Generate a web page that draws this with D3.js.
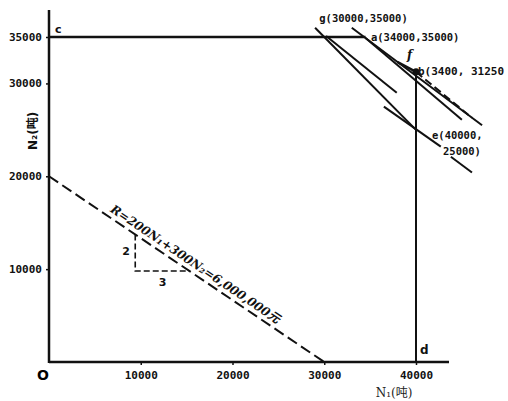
<!DOCTYPE html>
<html>
<head>
<meta charset="utf-8">
<script src="https://cdn.jsdelivr.net/npm/d3@7"></script>
<style>
  html, body { margin: 0; padding: 0; background: #fff; }
  svg { display: block; }
</style>
</head>
<body>
<div id="chart"></div>
<script>
// tick values
const N1_TICKS = [10000, 20000, 30000, 40000];
const N2_TICKS = [10000, 20000, 30000, 35000];

// iso-revenue line R = 200N1 + 300N2 = 6,000,000
const revenueLine = [[0, 20000], [30000, 0]];
// slope triangle (3 : 2) under the revenue line
const slopeTriangle = [[9400, 13733], [9400, 9800], [15300, 9800]];

// capacity limits
const n2Limit = [[0, 35000], [34500, 35000]];
const n1Limit = [[40000, 0], [40000, 31250]];

// constraint lines in the upper right corner
const solidLines = [
  [[33000, 36000], [47200, 25500]],
  [[34500, 34900], [45000, 26100]],
  [[30200, 35100], [37900, 29000]],
  [[29000, 36000], [40000, 25000]],
  [[36500, 27500], [42700, 23200]],
  [[43800, 22100], [46100, 20400]]
];
const dashedLines = [
  [[40000, 31250], [46100, 26300]]
];
const arrowFB = [[38000, 32300], [40000, 31250]];
const pointB = [40000, 31250];

const width = 508, height = 401;
const svg = d3.select('#chart').append('svg')
  .attr('width', width)
  .attr('height', height);

// ----------------------------------
// SCALES AND AXES
// ----------------------------------
const x = d3.scaleLinear().domain([0, 40000]).range([49, 416]);
const y = d3.scaleLinear().domain([0, 35000]).range([362, 37]);

const tickFont = "'DejaVu Sans Mono', monospace";

const xAxis = d3.axisBottom(x)
  .tickValues(N1_TICKS)
  .tickSize(3)
  .tickPadding(6)
  .tickFormat(d3.format('d'));

const yAxis = d3.axisLeft(y)
  .tickValues(N2_TICKS)
  .tickSize(3)
  .tickPadding(4)
  .tickFormat(d3.format('d'));

const gx = svg.append('g')
  .attr('transform', `translate(0,${y(0)})`)
  .call(xAxis);
gx.select('.domain').remove();

const gy = svg.append('g')
  .attr('transform', `translate(${x(0)},0)`)
  .call(yAxis);
gy.select('.domain').remove();

svg.selectAll('.tick text')
  .style('font-family', tickFont)
  .style('font-size', '11px')
  .style('font-weight', 'bold')
  .style('fill', '#111');
svg.selectAll('.tick line').attr('stroke', '#111').attr('stroke-width', 1.5);

// axis lines drawn by hand so they can overshoot the last tick
svg.append('line')
  .attr('x1', x(0)).attr('x2', x(40000) + 33)
  .attr('y1', y(0)).attr('y2', y(0))
  .attr('stroke', '#111').attr('stroke-width', 2.5);
svg.append('line')
  .attr('x1', x(0)).attr('x2', x(0))
  .attr('y1', y(35000) - 27).attr('y2', y(0) + 1)
  .attr('stroke', '#111').attr('stroke-width', 2.5);

// axis titles
svg.append('text')
  .attr('x', x(40000) - 22).attr('y', y(0) + 35)
  .attr('text-anchor', 'middle')
  .style('font-family', "'DejaVu Serif', 'Noto Sans CJK SC', serif")
  .style('font-size', '12px')
  .style('fill', '#222')
  .text('N₁(吨)');

svg.append('text')
  .attr('transform', `translate(${x(0) - 12},${y(24900)}) rotate(-90)`)
  .attr('text-anchor', 'middle')
  .style('font-family', "'DejaVu Sans', 'Noto Sans CJK SC', sans-serif")
  .style('font-size', '12px')
  .style('font-weight', 'bold')
  .style('fill', '#111')
  .text('N₂(吨)');

svg.append('text')
  .attr('x', x(0) - 6).attr('y', y(0) + 18)
  .attr('text-anchor', 'middle')
  .style('font-family', "'DejaVu Sans', sans-serif")
  .style('font-size', '14px')
  .style('font-weight', 'bold')
  .text('O');

// ----------------------------------
// LINES
// ----------------------------------
const line = d3.line().x(d => x(d[0])).y(d => y(d[1]));

svg.append('path')
  .attr('d', line(n2Limit))
  .attr('fill', 'none').attr('stroke', '#111').attr('stroke-width', 2.5);

svg.append('path')
  .attr('d', line(n1Limit))
  .attr('fill', 'none').attr('stroke', '#111').attr('stroke-width', 2);

svg.append('path')
  .attr('d', line(revenueLine))
  .attr('fill', 'none').attr('stroke', '#111').attr('stroke-width', 2)
  .attr('stroke-dasharray', '11,5');

svg.append('path')
  .attr('d', line(slopeTriangle))
  .attr('fill', 'none').attr('stroke', '#111').attr('stroke-width', 1.6)
  .attr('stroke-dasharray', '6,3');

svg.selectAll('.solid-line')
  .data(solidLines)
  .enter()
  .append('path')
  .classed('solid-line', true)
  .attr('d', line)
  .attr('fill', 'none').attr('stroke', '#111').attr('stroke-width', 2);

svg.selectAll('.dashed-line')
  .data(dashedLines)
  .enter()
  .append('path')
  .classed('dashed-line', true)
  .attr('d', line)
  .attr('fill', 'none').attr('stroke', '#111').attr('stroke-width', 2)
  .attr('stroke-dasharray', '8,4');

svg.append('path')
  .attr('d', line(arrowFB))
  .attr('fill', 'none').attr('stroke', '#111').attr('stroke-width', 2.5);

svg.append('circle')
  .attr('cx', x(pointB[0])).attr('cy', y(pointB[1]))
  .attr('r', 3.5).attr('fill', '#111');

// ----------------------------------
// LABELS
// ----------------------------------
const labelFont = "'DejaVu Sans Mono', monospace";
function label(text, px, py, opts = {}) {
  return svg.append('text')
    .attr('x', px).attr('y', py)
    .style('font-family', opts.family || labelFont)
    .style('font-size', (opts.size || 11) + 'px')
    .style('font-weight', 'bold')
    .style('font-style', opts.italic ? 'italic' : 'normal')
    .style('fill', '#111')
    .text(text);
}

label('c', x(0) + 6, y(35000) - 4, { family: "'DejaVu Sans', sans-serif" });
label('g(30000,35000)', x(30000) - 5, y(35000) - 15, { size: 10.5 });
label('a(34000,35000)', x(34000) + 10, y(35000) + 4, { size: 10.5 });
label('f', x(40000) - 9, y(31250) - 13, { family: "'DejaVu Serif', serif", italic: true, size: 12 });
label('b(3400, 31250', x(40000) + 2, y(31250) + 3, { size: 11 });
label('e(40000,', x(40000) + 16, y(25000) + 9, { size: 10.5 });
label('25000)', x(40000) + 27, y(25000) + 25, { size: 10.5 });
label('d', x(40000) + 4, y(0) - 8, { family: "'DejaVu Sans', sans-serif", size: 12 });

label('2', x(9400) - 13, y(12000) + 4, { family: "'DejaVu Sans', sans-serif", size: 11 });
label('3', x(12300) - 3, y(9800) + 15, { family: "'DejaVu Sans', sans-serif", size: 11 });

// revenue label along the dashed line
const angle = Math.atan2(y(0) - y(20000), x(30000) - x(0)) * 180 / Math.PI;
const startN1 = 6300;
const startN2 = 20000 * (1 - startN1 / 30000);
svg.append('text')
  .attr('transform', `translate(${x(startN1)},${y(startN2)}) rotate(${angle})`)
  .attr('dy', -5)
  .style('font-family', "'DejaVu Serif', 'Noto Sans CJK SC', serif")
  .style('font-size', '12px')
  .style('font-weight', 'bold')
  .style('font-style', 'italic')
  .style('fill', '#111')
  .text('R=200N₁+300N₂=6,000,000元');
</script>
</body>
</html>
